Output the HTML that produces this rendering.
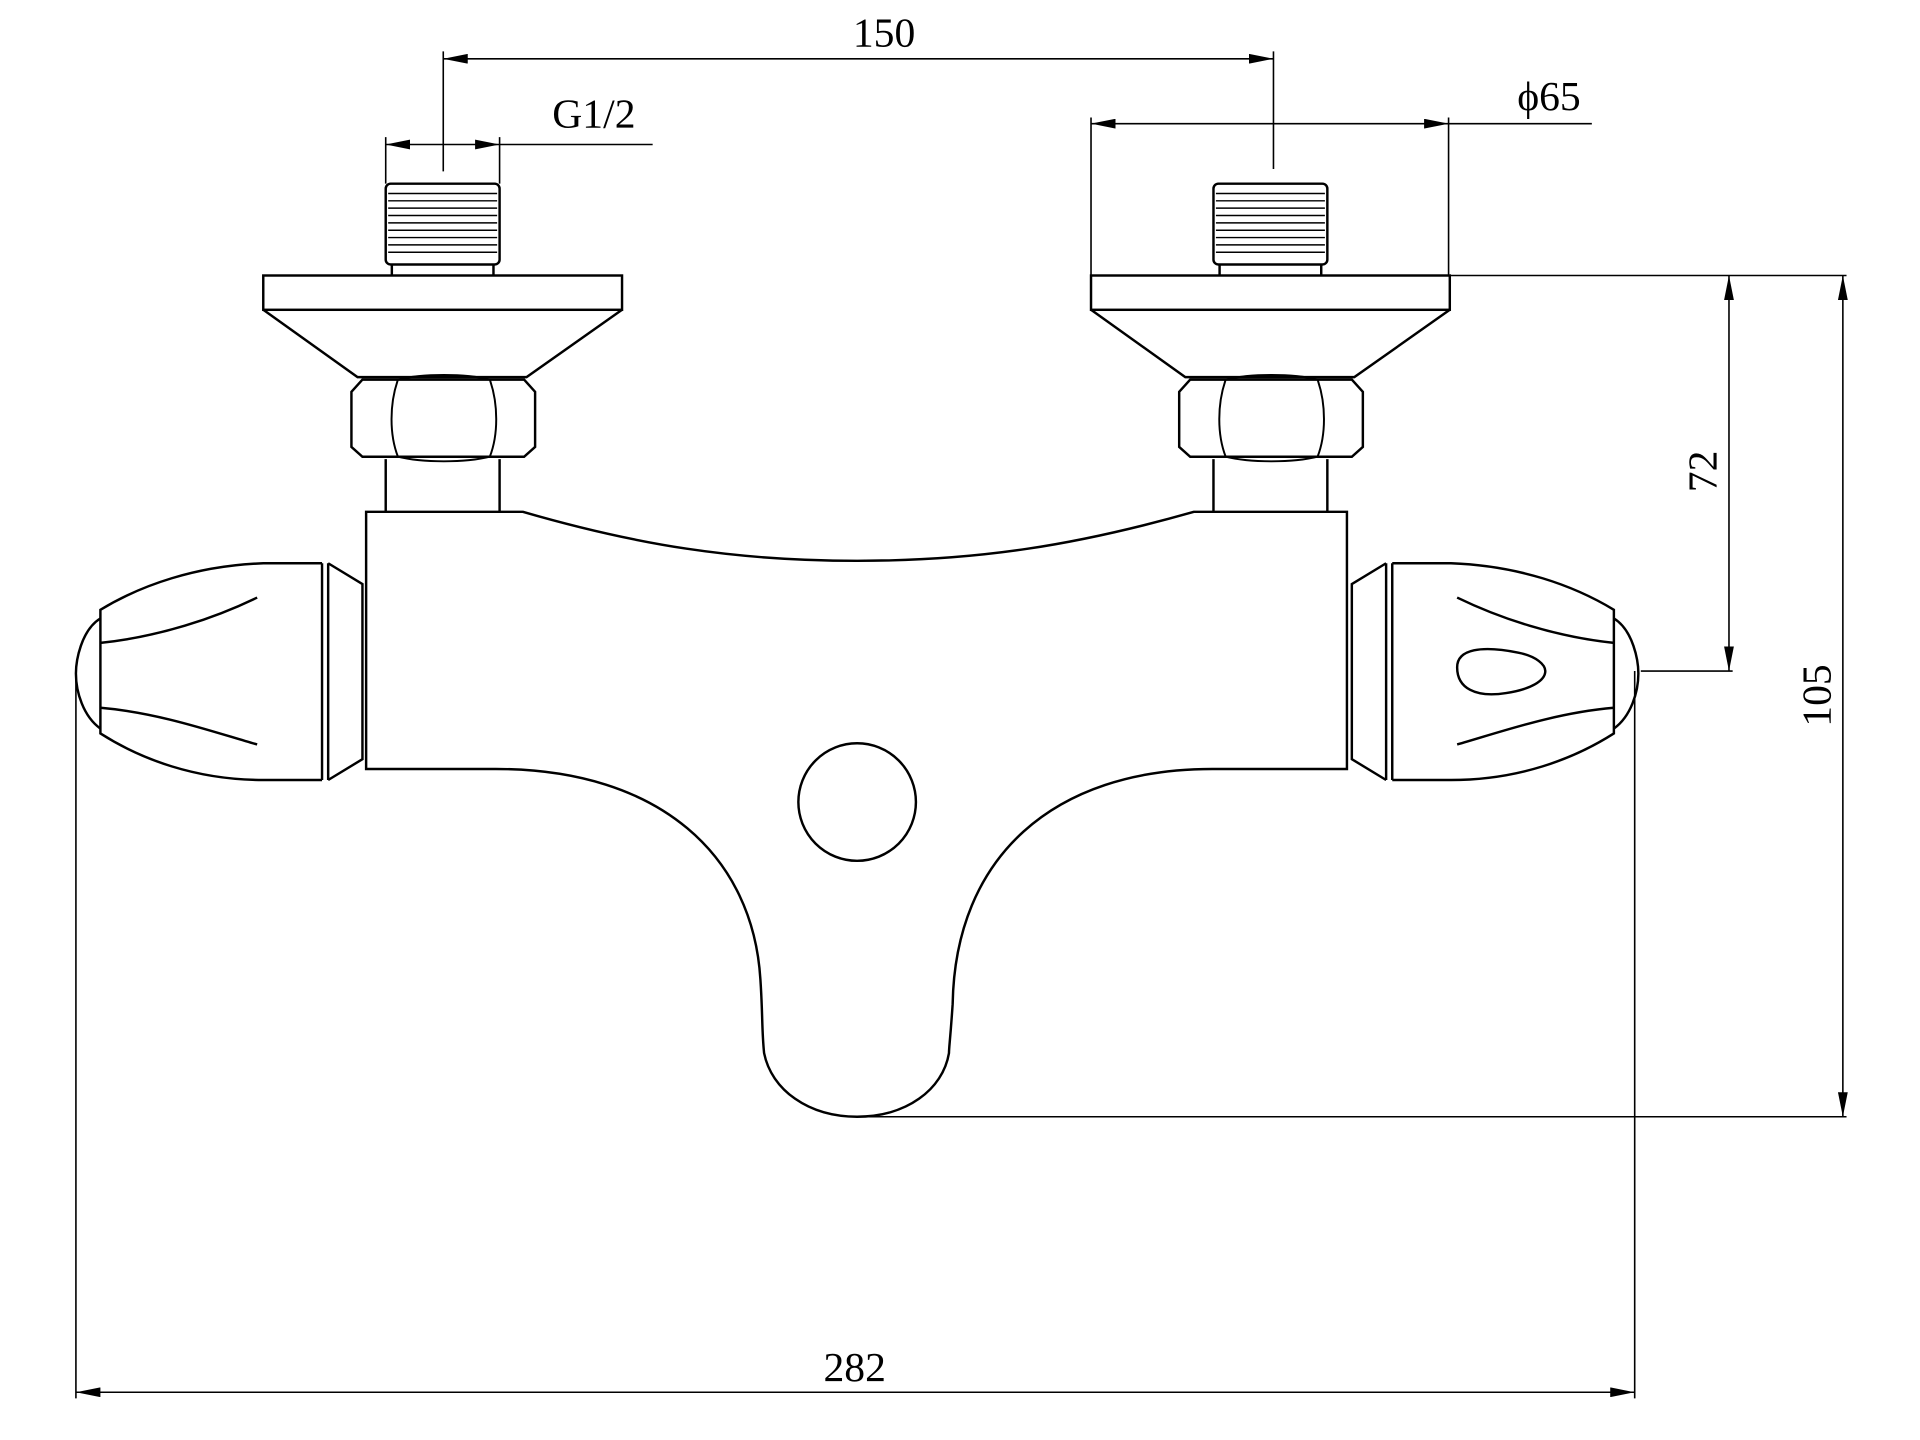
<!DOCTYPE html>
<html><head><meta charset="utf-8"><style>html,body{margin:0;padding:0;background:#fff}svg{display:block}</style></head><body>
<svg width="1920" height="1440" viewBox="0 0 1568 1176" xmlns="http://www.w3.org/2000/svg">
<defs>
<marker id="a" viewBox="0 0 20 8" refX="20" refY="4" markerWidth="20" markerHeight="8" markerUnits="userSpaceOnUse" orient="auto-start-reverse"><path d="M0,0 L20,4 L0,8 Z" fill="#000"/></marker>
<g id="fit">
<rect x="315" y="150" width="93" height="66" rx="4" fill="none" stroke="#000" stroke-width="2"/>
<path d="M317,158H406M317,164H406M317,170H406M317,176H406M317,182H406M317,188H406M317,194H406M317,200H406M317,206H406" stroke="#000" stroke-width="1.2"/>
<path d="M320,216V225M403,216V225" stroke="#000" stroke-width="2"/>
<rect x="215" y="225" width="293" height="28" fill="none" stroke="#000" stroke-width="2"/>
<path d="M215,253L292,308H430L508,253" fill="none" stroke="#000" stroke-width="2"/>
<path d="M296,310H428L437,320V365L428,373H296L287,365V320Z" fill="none" stroke="#000" stroke-width="2"/>
<path d="M325,310C318,330 318,355 325,373M400,310C407,330 407,355 400,373M325,310C345,305 380,305 400,310M325,373C345,378 380,378 400,373" fill="none" stroke="#000" stroke-width="1.6"/>
<path d="M315,375V418M408,375V418" stroke="#000" stroke-width="2"/>
</g>
<g id="hdl">
<path d="M263,460H215C160,462 115,478 82,498V599C115,620 160,637 215,637H263" fill="none" stroke="#000" stroke-width="2"/>
<path d="M82,505C66,515 62,540 62,550C62,565 68,585 82,595" fill="none" stroke="#000" stroke-width="2"/>
<path d="M82,525C130,520 175,505 210,488M82,578C130,582 175,598 210,608" fill="none" stroke="#000" stroke-width="2"/>
<path d="M263,460V637M268,460V637M268,460L296,477V620L268,637" fill="none" stroke="#000" stroke-width="2"/>
</g>
</defs>
<g font-family="'Liberation Serif',serif" font-size="34" fill="#000">
<text x="722" y="38" text-anchor="middle">150</text>
<text x="485" y="104" text-anchor="middle">G1/2</text>
<text x="1265" y="90" text-anchor="middle">ϕ65</text>
<text x="698" y="1128" text-anchor="middle">282</text>
<text transform="translate(1402,385) rotate(-90)" text-anchor="middle">72</text>
<text transform="translate(1495,568) rotate(-90)" text-anchor="middle">105</text>
</g>
<g stroke="#000" stroke-width="1.3" fill="none">
<path d="M362,42V140M1040,42V138M315,112V150M408,112V150M891,96V225M1183,96V225M62,548V1142M1335,548V1142M1183,225H1508M1340,548H1415M700,912H1508"/>
<path d="M362,48H1040" marker-start="url(#a)" marker-end="url(#a)"/>
<path d="M315,118H408" marker-start="url(#a)" marker-end="url(#a)"/><path d="M408,118H533"/>
<path d="M891,101H1183" marker-start="url(#a)" marker-end="url(#a)"/><path d="M1183,101H1300"/>
<path d="M1412,225V548" marker-start="url(#a)" marker-end="url(#a)"/>
<path d="M1505,225V912" marker-start="url(#a)" marker-end="url(#a)"/>
<path d="M62,1137H1335" marker-start="url(#a)" marker-end="url(#a)"/>
</g>
<use href="#fit"/>
<use href="#fit" transform="translate(676,0)"/>
<use href="#hdl"/>
<use href="#hdl" transform="translate(1400,0) scale(-1,1)"/>
<g stroke="#000" stroke-width="2" fill="none">
<path d="M299,418H427C520,445 600,458 700,458C800,458 880,445 975,418H1100V628H990C860,628 780,700 778,820C776,850 775,855 775,860C770,890 740,912 700,912C660,912 630,890 624,860C622,840 623,830 621,800C615,700 540,628 405,628H299Z"/>
<circle cx="700" cy="655" r="48"/>
<path d="M1190,545C1190,530 1210,527 1240,533C1255,536 1262,543 1262,548C1262,556 1250,563 1230,566C1205,570 1190,562 1190,545Z"/>
</g>
</svg>
</body></html>
